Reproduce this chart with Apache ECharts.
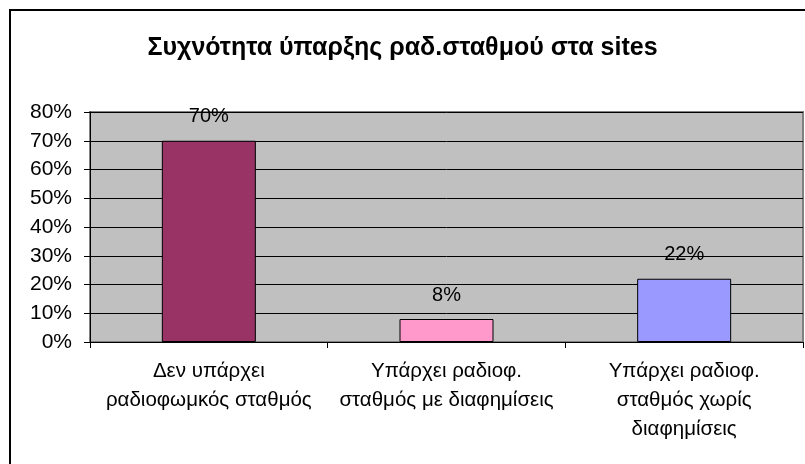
<!DOCTYPE html>
<html>
<head>
<meta charset="utf-8">
<script src="https://cdn.jsdelivr.net/npm/echarts@6/dist/echarts.min.js"></script>
<style>
  html, body { margin: 0; padding: 0; background: #ffffff; }
  #chart { width: 805px; height: 464px; }
</style>
</head>
<body>
<div id="chart"></div>
<script>
// Frequency of radio stations on sites (percent)
const categories = [
  'Δεν υπάρχει\nραδιοφωμκός σταθμός',
  'Υπάρχει ραδιοφ.\nσταθμός με διαφημίσεις',
  'Υπάρχει ραδιοφ.\nσταθμός χωρίς\nδιαφημίσεις'
];
const values = [70, 8, 22];
const barColors = ['#993366', '#FF99CC', '#9999FF'];
const titleText = 'Συχνότητα ύπαρξης ραδ.σταθμού στα sites';

const font = '"Liberation Sans", Arial, sans-serif';

const chart = echarts.init(document.getElementById('chart'));
chart.setOption({
  animation: false,
  backgroundColor: '#ffffff',
  title: {
    text: titleText,
    left: 'center',
    top: 31,
    textStyle: { fontFamily: font, fontSize: 25, fontWeight: 'bold', color: '#000' }
  },
  graphic: [{
    type: 'rect',
    shape: { x: 10, y: 10, width: 820, height: 470 },
    style: { fill: 'none', stroke: '#000', lineWidth: 2 },
    silent: true
  }],
  grid: {
    left: 90, top: 112, right: 2, bottom: 122,
    show: true,
    backgroundColor: '#C0C0C0',
    borderColor: '#808080',
    borderWidth: 2
  },
  xAxis: {
    type: 'category',
    data: categories,
    boundaryGap: true,
    axisLine: { show: true, lineStyle: { color: '#000', width: 1 } },
    axisTick: { show: true, length: 6, lineStyle: { color: '#000' } },
    axisLabel: {
      interval: 0, margin: 15,
      fontFamily: font, fontSize: 20.5, lineHeight: 29, color: '#000', align: 'center'
    },
    splitLine: { show: false }
  },
  yAxis: {
    type: 'value',
    min: 0, max: 80, interval: 10,
    axisLine: { show: true, lineStyle: { color: '#000', width: 1 } },
    axisTick: { show: true, length: 6, inside: false, lineStyle: { color: '#000' } },
    axisLabel: { formatter: '{value}%', margin: 18, fontFamily: font, fontSize: 21, color: '#000' },
    splitLine: { show: true, lineStyle: { color: '#000', width: 1 } }
  },
  series: [{
    type: 'bar',
    data: values.map((v, i) => ({ value: v, itemStyle: { color: barColors[i] } })),
    barWidth: 94,
    itemStyle: { borderColor: '#000', borderWidth: 1 },
    label: {
      show: true, position: 'top', distance: 14,
      formatter: '{c}%',
      fontFamily: font, fontSize: 20, color: '#000'
    }
  }]
});
</script>
</body>
</html>
